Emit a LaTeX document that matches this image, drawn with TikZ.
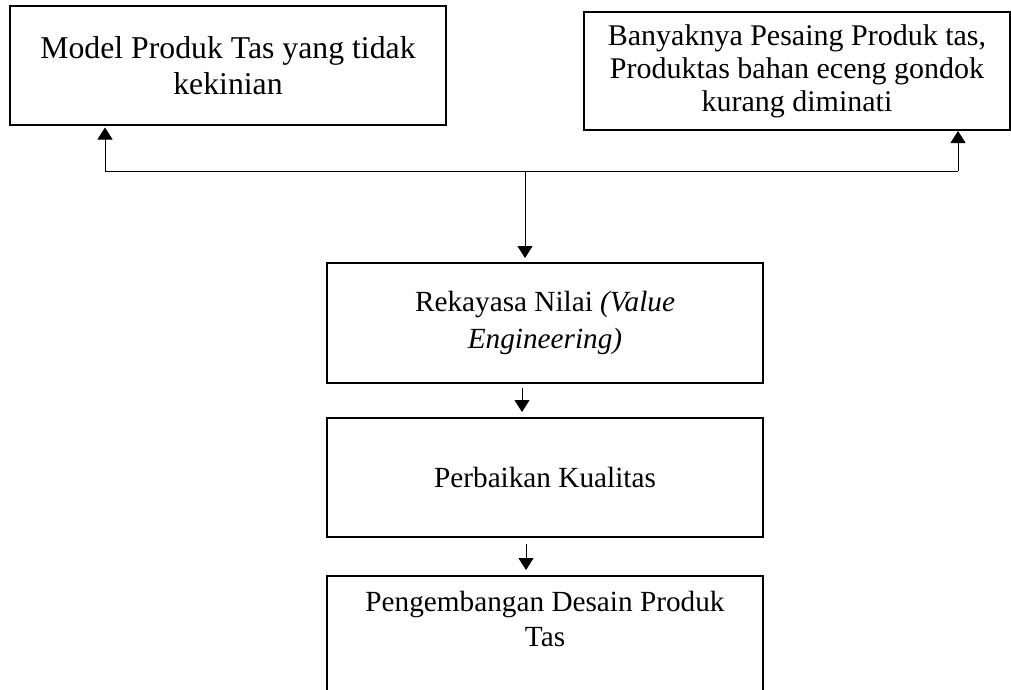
\documentclass[12pt,tikz,border=0pt]{standalone}
\usepackage{fontspec}
\setmainfont{Liberation Serif}
\usetikzlibrary{arrows.meta}
\tikzset{>={Triangle[length=4.8pt,width=6pt]}}
\tikzset{kotak/.style={draw, line width=0.8pt, inner xsep=2pt, text width=160pt, align=flush center, minimum width=174.4pt, font=\fontsize{11.7}{14}\selectfont}}

\begin{document}
\begin{tikzpicture}[x=0.4pt,y=-0.4pt]
    \useasboundingbox (0,0) rectangle (1011,689);
    \clip (0,0) rectangle (1011,689);
    \node[kotak, minimum height=47.6pt, font=\fontsize{12.7}{14.4}\selectfont] (model) at (228,65.5) {Model Produk Tas yang tidak\\kekinian};
    \node[kotak, minimum width=170.4pt, minimum height=47.2pt, font=\fontsize{12}{13.2}\selectfont] (pesaing) at (797,71) {Banyaknya Pesaing Produk tas,\\Produktas bahan eceng gondok\\kurang diminati};
    \node[kotak, minimum height=48pt, font=\fontsize{11.7}{14.8}\selectfont] (rekayasa) at (545,323) {Rekayasa Nilai \textit{(Value\\Engineering)}};
    \node[kotak, minimum height=47.6pt] (perbaikan) at (545,477.5) {Perbaikan Kualitas};
    \node[kotak, anchor=north, inner ysep=0pt, text height=14pt, text depth=50pt] (desain) at (545,575) {Pengembangan Desain Produk\\Tas};
    \coordinate (kiri) at (105,171);
    \coordinate (kanan) at (958,171);
    \coordinate (cabang) at (525,171);
    \draw (kiri) -- (kanan);
    \draw[->, shorten >=0.6pt] (kiri) -- (kiri |- model.south);
    \draw[->] (kanan) -- (kanan |- pesaing.south);
    \draw[->, shorten >=1.6pt] (cabang) -- (cabang |- rekayasa.north);
    \draw[->, shorten <=1.6pt, shorten >=2pt] ([xshift=-9.2pt]rekayasa.south) -- ([xshift=-9.2pt]perbaikan.north);
    \draw[->, shorten <=2.4pt, shorten >=2pt] ([xshift=-7.6pt]perbaikan.south) -- ([xshift=-7.6pt]desain.north);
\end{tikzpicture}
\end{document}
